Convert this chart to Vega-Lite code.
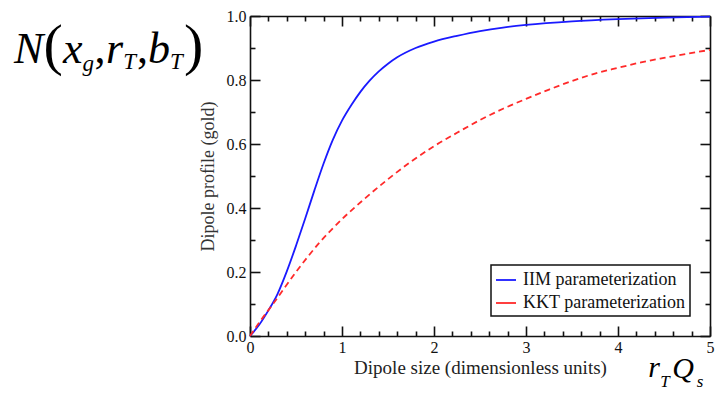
{
  "$schema": "https://vega.github.io/schema/vega-lite/v6.json",
  "width": 460,
  "height": 320,
  "autosize": {"type": "none"},
  "padding": {"left": 250, "top": 16, "right": 6, "bottom": 57},
  "background": "white",
  "config": {
    "view": {"stroke": null},
    "font": "Liberation Serif",
    "axis": {
      "labelFont": "Liberation Serif",
      "titleFont": "Liberation Serif",
      "labelColor": "#111",
      "titleColor": "#222",
      "labelFontSize": 16,
      "domainColor": "#111",
      "domainWidth": 1.6,
      "tickColor": "#111",
      "tickWidth": 1.6,
      "grid": false,
      "labelFlush": false,
      "labelOverlap": false,
      "labelBound": false
    },
    "legend": {"strokeWidth": 1.5}
  },
  "datasets": {
    "profiles": [
      {"model": "IIM parameterization", "x": 0.0, "y": 0.0},
      {"model": "IIM parameterization", "x": 0.1, "y": 0.035},
      {"model": "IIM parameterization", "x": 0.2, "y": 0.08},
      {"model": "IIM parameterization", "x": 0.3, "y": 0.132},
      {"model": "IIM parameterization", "x": 0.4, "y": 0.202},
      {"model": "IIM parameterization", "x": 0.5, "y": 0.282},
      {"model": "IIM parameterization", "x": 0.6, "y": 0.367},
      {"model": "IIM parameterization", "x": 0.7, "y": 0.455},
      {"model": "IIM parameterization", "x": 0.8, "y": 0.539},
      {"model": "IIM parameterization", "x": 0.9, "y": 0.613},
      {"model": "IIM parameterization", "x": 1.0, "y": 0.673},
      {"model": "IIM parameterization", "x": 1.1, "y": 0.721},
      {"model": "IIM parameterization", "x": 1.2, "y": 0.763},
      {"model": "IIM parameterization", "x": 1.3, "y": 0.798},
      {"model": "IIM parameterization", "x": 1.4, "y": 0.827},
      {"model": "IIM parameterization", "x": 1.5, "y": 0.851},
      {"model": "IIM parameterization", "x": 1.6, "y": 0.871},
      {"model": "IIM parameterization", "x": 1.8, "y": 0.9},
      {"model": "IIM parameterization", "x": 2.0, "y": 0.92},
      {"model": "IIM parameterization", "x": 2.25, "y": 0.938},
      {"model": "IIM parameterization", "x": 2.5, "y": 0.953},
      {"model": "IIM parameterization", "x": 2.75, "y": 0.964},
      {"model": "IIM parameterization", "x": 3.0, "y": 0.972},
      {"model": "IIM parameterization", "x": 3.5, "y": 0.983},
      {"model": "IIM parameterization", "x": 4.0, "y": 0.99},
      {"model": "IIM parameterization", "x": 4.5, "y": 0.995},
      {"model": "IIM parameterization", "x": 5.0, "y": 0.998},
      {"model": "KKT parameterization", "x": 0.0, "y": 0.0},
      {"model": "KKT parameterization", "x": 0.1, "y": 0.042},
      {"model": "KKT parameterization", "x": 0.25, "y": 0.1},
      {"model": "KKT parameterization", "x": 0.5, "y": 0.2},
      {"model": "KKT parameterization", "x": 0.75, "y": 0.29},
      {"model": "KKT parameterization", "x": 1.0, "y": 0.365},
      {"model": "KKT parameterization", "x": 1.25, "y": 0.43},
      {"model": "KKT parameterization", "x": 1.5, "y": 0.49},
      {"model": "KKT parameterization", "x": 1.75, "y": 0.545},
      {"model": "KKT parameterization", "x": 2.0, "y": 0.593},
      {"model": "KKT parameterization", "x": 2.25, "y": 0.635},
      {"model": "KKT parameterization", "x": 2.5, "y": 0.675},
      {"model": "KKT parameterization", "x": 2.75, "y": 0.71},
      {"model": "KKT parameterization", "x": 3.0, "y": 0.741},
      {"model": "KKT parameterization", "x": 3.25, "y": 0.77},
      {"model": "KKT parameterization", "x": 3.5, "y": 0.797},
      {"model": "KKT parameterization", "x": 3.75, "y": 0.82},
      {"model": "KKT parameterization", "x": 4.0, "y": 0.838},
      {"model": "KKT parameterization", "x": 4.25, "y": 0.855},
      {"model": "KKT parameterization", "x": 4.5, "y": 0.869},
      {"model": "KKT parameterization", "x": 4.75, "y": 0.882},
      {"model": "KKT parameterization", "x": 5.0, "y": 0.894}
    ]
  },
  "resolve": {"axis": {"x": "independent", "y": "independent"}},
  "layer": [
    {
      "data": {"name": "profiles"},
      "transform": [{"filter": "datum.model === 'IIM parameterization'"}],
      "mark": {"type": "line", "strokeWidth": 1.8, "interpolate": "monotone"},
      "encoding": {
        "x": {
          "field": "x", "type": "quantitative",
          "scale": {"domain": [0, 5], "nice": false},
          "axis": {
            "orient": "bottom",
            "title": "Dipole size (dimensionless units)",
            "titleFontSize": 19,
            "titleFontWeight": "normal",
            "titlePadding": -2,
            "values": [0, 0.2, 0.4, 0.6, 0.8, 1, 1.2, 1.4, 1.6, 1.8, 2, 2.2, 2.4, 2.6, 2.8, 3, 3.2, 3.4, 3.6, 3.8, 4, 4.2, 4.4, 4.6, 4.8, 5],
            "labelExpr": "abs(datum.value - round(datum.value)) < 1e-6 ? format(datum.value, 'd') : ''",
            "tickSize": {"condition": {"test": "abs(datum.value - round(datum.value)) < 1e-6", "value": -10}, "value": -5},
            "labelPadding": 13
          }
        },
        "y": {
          "field": "y", "type": "quantitative",
          "scale": {"domain": [0, 1], "nice": false},
          "axis": {
            "orient": "left",
            "title": "Dipole profile (gold)",
            "titleFontSize": 18,
            "titleFontWeight": "normal",
            "titleColor": "#333",
            "titlePadding": 9,
            "values": [0, 0.1, 0.2, 0.3, 0.4, 0.5, 0.6, 0.7, 0.8, 0.9, 1],
            "labelExpr": "abs(datum.value * 5 - round(datum.value * 5)) < 1e-6 ? format(datum.value, '.1f') : ''",
            "tickSize": {"condition": {"test": "abs(datum.value * 5 - round(datum.value * 5)) < 1e-6", "value": -10}, "value": -5},
            "labelPadding": 14
          }
        },
        "color": {
          "field": "model", "type": "nominal",
          "scale": {"domain": ["IIM parameterization", "KKT parameterization"], "range": ["#1a1aff", "#ff2a2a"]},
          "legend": {
            "title": null,
            "orient": "bottom-right",
            "offset": 20,
            "strokeColor": "#111",
            "fillColor": "white",
            "padding": 4,
            "rowPadding": 3,
            "symbolType": "stroke",
            "symbolSize": 400,
            "symbolStrokeWidth": 1.8,
            "labelFont": "Liberation Serif",
            "labelFontSize": 18,
            "labelLimit": 300,
            "labelColor": "#111",
            "labelOffset": 6
          }
        }
      }
    },
    {
      "data": {"name": "profiles"},
      "transform": [{"filter": "datum.model === 'KKT parameterization'"}],
      "mark": {"type": "line", "strokeWidth": 1.8, "strokeDash": [6, 4], "interpolate": "monotone"},
      "encoding": {
        "x": {"field": "x", "type": "quantitative", "axis": null},
        "y": {"field": "y", "type": "quantitative", "axis": null},
        "color": {"field": "model", "type": "nominal"}
      }
    },
    {
      "data": {"values": [{}]},
      "mark": {"type": "text", "text": "", "opacity": 0},
      "encoding": {
        "x": {
          "datum": 0, "type": "quantitative",
          "axis": {
            "orient": "top", "title": null, "labels": false,
            "values": [0, 0.2, 0.4, 0.6, 0.8, 1, 1.2, 1.4, 1.6, 1.8, 2, 2.2, 2.4, 2.6, 2.8, 3, 3.2, 3.4, 3.6, 3.8, 4, 4.2, 4.4, 4.6, 4.8, 5],
            "tickSize": {"condition": {"test": "abs(datum.value - round(datum.value)) < 1e-6", "value": -10}, "value": -5}
          }
        },
        "y": {
          "datum": 0, "type": "quantitative",
          "axis": {
            "orient": "right", "title": null, "labels": false,
            "values": [0, 0.1, 0.2, 0.3, 0.4, 0.5, 0.6, 0.7, 0.8, 0.9, 1],
            "tickSize": {"condition": {"test": "abs(datum.value * 5 - round(datum.value * 5)) < 1e-6", "value": -10}, "value": -5}
          }
        }
      }
    },
    {
      "data": {"values": [{}]},
      "layer": [
        {"mark": {"type": "text", "text": "N", "font": "Liberation Serif", "fontStyle": "italic", "fontSize": 44, "align": "left", "baseline": "alphabetic", "color": "black"},
         "encoding": {"x": {"datum": -2.565, "type": "quantitative", "axis": null}, "y": {"datum": 0.853, "type": "quantitative", "axis": null}}},
        {"mark": {"type": "text", "text": "(", "font": "Liberation Serif", "fontSize": 58, "align": "left", "baseline": "alphabetic", "color": "black"},
         "encoding": {"x": {"datum": -2.245, "type": "quantitative", "axis": null}, "y": {"datum": 0.85, "type": "quantitative", "axis": null}}},
        {"mark": {"type": "text", "text": "x", "font": "Liberation Serif", "fontStyle": "italic", "fontSize": 44, "align": "left", "baseline": "alphabetic", "color": "black"},
         "encoding": {"x": {"datum": -2.033, "type": "quantitative", "axis": null}, "y": {"datum": 0.853, "type": "quantitative", "axis": null}}},
        {"mark": {"type": "text", "text": "g", "font": "Liberation Serif", "fontStyle": "italic", "fontSize": 23, "align": "left", "baseline": "alphabetic", "color": "black"},
         "encoding": {"x": {"datum": -1.821, "type": "quantitative", "axis": null}, "y": {"datum": 0.828, "type": "quantitative", "axis": null}}},
        {"mark": {"type": "text", "text": ",", "font": "Liberation Serif", "fontSize": 44, "align": "left", "baseline": "alphabetic", "color": "black"},
         "encoding": {"x": {"datum": -1.69, "type": "quantitative", "axis": null}, "y": {"datum": 0.853, "type": "quantitative", "axis": null}}},
        {"mark": {"type": "text", "text": "r", "font": "Liberation Serif", "fontStyle": "italic", "fontSize": 44, "align": "left", "baseline": "alphabetic", "color": "black"},
         "encoding": {"x": {"datum": -1.565, "type": "quantitative", "axis": null}, "y": {"datum": 0.853, "type": "quantitative", "axis": null}}},
        {"mark": {"type": "text", "text": "T", "font": "Liberation Serif", "fontStyle": "italic", "fontSize": 23, "align": "left", "baseline": "alphabetic", "color": "black"},
         "encoding": {"x": {"datum": -1.378, "type": "quantitative", "axis": null}, "y": {"datum": 0.834, "type": "quantitative", "axis": null}}},
        {"mark": {"type": "text", "text": ",", "font": "Liberation Serif", "fontSize": 44, "align": "left", "baseline": "alphabetic", "color": "black"},
         "encoding": {"x": {"datum": -1.228, "type": "quantitative", "axis": null}, "y": {"datum": 0.853, "type": "quantitative", "axis": null}}},
        {"mark": {"type": "text", "text": "b", "font": "Liberation Serif", "fontStyle": "italic", "fontSize": 44, "align": "left", "baseline": "alphabetic", "color": "black"},
         "encoding": {"x": {"datum": -1.109, "type": "quantitative", "axis": null}, "y": {"datum": 0.853, "type": "quantitative", "axis": null}}},
        {"mark": {"type": "text", "text": "T", "font": "Liberation Serif", "fontStyle": "italic", "fontSize": 23, "align": "left", "baseline": "alphabetic", "color": "black"},
         "encoding": {"x": {"datum": -0.87, "type": "quantitative", "axis": null}, "y": {"datum": 0.834, "type": "quantitative", "axis": null}}},
        {"mark": {"type": "text", "text": ")", "font": "Liberation Serif", "fontSize": 58, "align": "left", "baseline": "alphabetic", "color": "black"},
         "encoding": {"x": {"datum": -0.717, "type": "quantitative", "axis": null}, "y": {"datum": 0.85, "type": "quantitative", "axis": null}}},
        {"mark": {"type": "text", "text": "r", "font": "Liberation Serif", "fontStyle": "italic", "fontSize": 30, "align": "left", "baseline": "alphabetic", "color": "black"},
         "encoding": {"x": {"datum": 4.33, "type": "quantitative", "axis": null}, "y": {"datum": -0.128, "type": "quantitative", "axis": null}}},
        {"mark": {"type": "text", "text": "T", "font": "Liberation Serif", "fontStyle": "italic", "fontSize": 17, "align": "left", "baseline": "alphabetic", "color": "black"},
         "encoding": {"x": {"datum": 4.46, "type": "quantitative", "axis": null}, "y": {"datum": -0.159, "type": "quantitative", "axis": null}}},
        {"mark": {"type": "text", "text": "Q", "font": "Liberation Serif", "fontStyle": "italic", "fontSize": 30, "align": "left", "baseline": "alphabetic", "color": "black"},
         "encoding": {"x": {"datum": 4.59, "type": "quantitative", "axis": null}, "y": {"datum": -0.131, "type": "quantitative", "axis": null}}},
        {"mark": {"type": "text", "text": "s", "font": "Liberation Serif", "fontStyle": "italic", "fontSize": 17, "align": "left", "baseline": "alphabetic", "color": "black"},
         "encoding": {"x": {"datum": 4.855, "type": "quantitative", "axis": null}, "y": {"datum": -0.159, "type": "quantitative", "axis": null}}}
      ]
    }
  ]
}
